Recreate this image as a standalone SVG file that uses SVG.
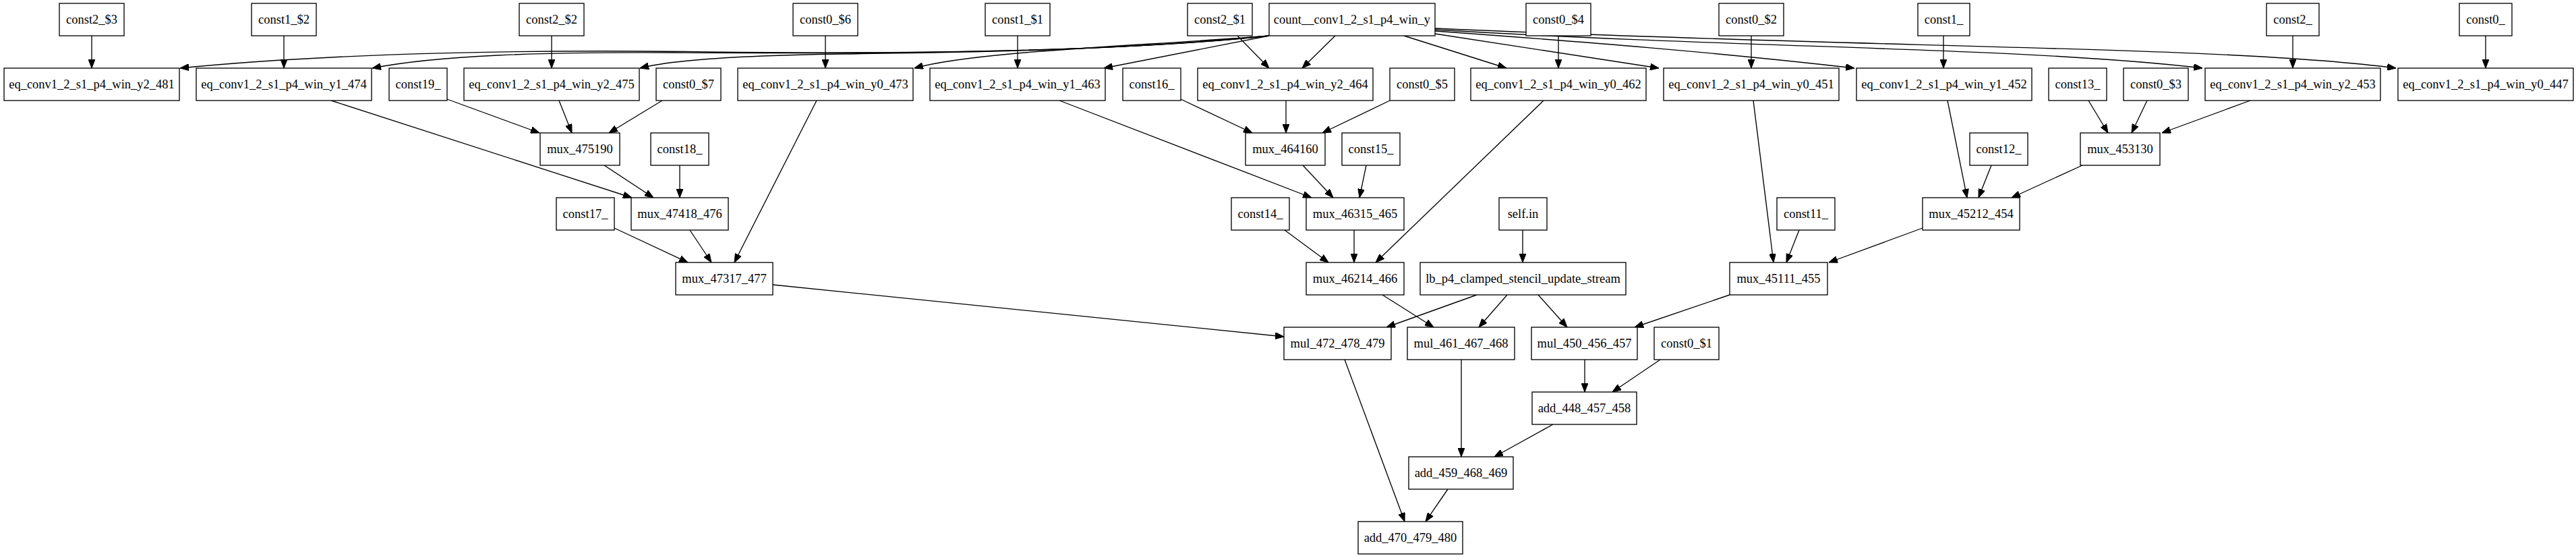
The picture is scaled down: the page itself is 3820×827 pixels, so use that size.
<svg xmlns="http://www.w3.org/2000/svg" width="3820" height="827" viewBox="0 0 3820 827">
<style>
.n rect{fill:#fff;stroke:#000;stroke-width:1.33}
.n text{font-family:"Liberation Serif","Times New Roman",serif;font-size:18.5px;text-anchor:middle;fill:#000}
.e path{fill:none;stroke:#000;stroke-width:1.33;marker-end:url(#ah)}
</style>
<defs>
<marker id="ah" markerUnits="userSpaceOnUse" viewBox="0 0 13 10" markerWidth="13" markerHeight="10" refX="13" refY="5" orient="auto">
<path d="M0,0 L13,5 L0,10 z" fill="#000" stroke="#000" stroke-width="1"/>
</marker>
</defs>
<rect x="0" y="0" width="3820" height="827" fill="#fff"/>
<g id="edges" class="e">
<path d="M136,53 L136,101"/>
<path d="M421,53 L421,101"/>
<path d="M818,53 L818,101"/>
<path d="M1224,53 L1224,101"/>
<path d="M1509,53 L1509,101"/>
<path d="M2311,53 L2311,101"/>
<path d="M2597,53 L2597,101"/>
<path d="M2882,53 L2882,101"/>
<path d="M3400,53 L3400,101"/>
<path d="M3686,53 L3686,101"/>
<path d="M1835,53 L1882,101"/>
<path d="M1980,53 L1931,101"/>
<path d="M2082,53 L2234,101"/>
<path d="M2128,50 L2460,101"/>
<path d="M2128,46 C2350,62 2550,78 2750,101"/>
<path d="M2128,44 C2600,72 3000,70 3266,101"/>
<path d="M2128,42 C2800,72 3300,68 3553,101"/>
<path d="M1882,53 C1650,76 1400,78 1250,80 C1100,82 1000,88 949,101"/>
<path d="M1882,53 C1650,78 1300,80 1000,78 C800,77 650,82 552,101"/>
<path d="M1882,53 C1650,78 1300,80 1050,77 C800,73 500,78 267,101"/>
<path d="M1882,53 C1700,68 1450,75 1356,101"/>
<path d="M1882,53 L1637,101"/>
<path d="M663,147 L800,197"/>
<path d="M829,149 L848,197"/>
<path d="M982,149 L903,197"/>
<path d="M491,149 L937,293"/>
<path d="M896,245 L969,293"/>
<path d="M1008,245 L1008,293"/>
<path d="M1211,149 L1089,389"/>
<path d="M1023,341 L1055,389"/>
<path d="M911,338 L1020,389"/>
<path d="M1751,147 L1857,197"/>
<path d="M1907,149 L1907,197"/>
<path d="M2061,149 L1961,197"/>
<path d="M1571,149 L1945,293"/>
<path d="M1932,245 L1977,293"/>
<path d="M2026,245 L2016,293"/>
<path d="M1905,341 L1970,389"/>
<path d="M2008,341 L2008,389"/>
<path d="M2289,149 L2040,389"/>
<path d="M2258,341 L2258,389"/>
<path d="M2600,149 L2630,389"/>
<path d="M2668,341 L2649,389"/>
<path d="M2851,338 L2712,389"/>
<path d="M2888,149 L2917,293"/>
<path d="M2953,245 L2934,293"/>
<path d="M3088,245 L2983,293"/>
<path d="M3097,149 L3126,197"/>
<path d="M3184,149 L3161,197"/>
<path d="M3337,149 L3206,197"/>
<path d="M1146,422 L1904,499"/>
<path d="M2050,437 L2126,485"/>
<path d="M2190,437 L2056,485"/>
<path d="M2235,437 L2193,485"/>
<path d="M2281,437 L2324,485"/>
<path d="M2565,437 L2424,485"/>
<path d="M2350,533 L2350,581"/>
<path d="M2462,533 L2391,581"/>
<path d="M2167,533 L2167,677"/>
<path d="M2303,629 L2216,677"/>
<path d="M1994,533 L2083,773"/>
<path d="M2147,725 L2114,773"/>
</g>
<g id="const2_3" class="n"><rect x="88" y="5" width="96" height="48"/><text x="136" y="35">const2_$3</text></g>
<g id="const1_2" class="n"><rect x="373" y="5" width="96" height="48"/><text x="421" y="35">const1_$2</text></g>
<g id="const2_2" class="n"><rect x="770" y="5" width="96" height="48"/><text x="818" y="35">const2_$2</text></g>
<g id="const0_6" class="n"><rect x="1176" y="5" width="96" height="48"/><text x="1224" y="35">const0_$6</text></g>
<g id="const1_1" class="n"><rect x="1461" y="5" width="96" height="48"/><text x="1509" y="35">const1_$1</text></g>
<g id="const2_1" class="n"><rect x="1761" y="5" width="96" height="48"/><text x="1809" y="35">const2_$1</text></g>
<g id="count" class="n"><rect x="1882" y="5" width="246" height="48"/><text x="2005" y="35">count__conv1_2_s1_p4_win_y</text></g>
<g id="const0_4" class="n"><rect x="2263" y="5" width="96" height="48"/><text x="2311" y="35">const0_$4</text></g>
<g id="const0_2" class="n"><rect x="2549" y="5" width="96" height="48"/><text x="2597" y="35">const0_$2</text></g>
<g id="const1" class="n"><rect x="2844" y="5" width="77" height="48"/><text x="2882.5" y="35">const1_</text></g>
<g id="const2" class="n"><rect x="3361" y="5" width="78" height="48"/><text x="3400" y="35">const2_</text></g>
<g id="const0" class="n"><rect x="3647" y="5" width="78" height="48"/><text x="3686" y="35">const0_</text></g>

<g id="eq_y2_481" class="n"><rect x="6" y="101" width="260" height="48"/><text x="136" y="131">eq_conv1_2_s1_p4_win_y2_481</text></g>
<g id="eq_y1_474" class="n"><rect x="291" y="101" width="260" height="48"/><text x="421" y="131">eq_conv1_2_s1_p4_win_y1_474</text></g>
<g id="const19" class="n"><rect x="577" y="101" width="86" height="48"/><text x="620" y="131">const19_</text></g>
<g id="eq_y2_475" class="n"><rect x="688" y="101" width="260" height="48"/><text x="818" y="131">eq_conv1_2_s1_p4_win_y2_475</text></g>
<g id="const0_7" class="n"><rect x="973" y="101" width="96" height="48"/><text x="1021" y="131">const0_$7</text></g>
<g id="eq_y0_473" class="n"><rect x="1094" y="101" width="260" height="48"/><text x="1224" y="131">eq_conv1_2_s1_p4_win_y0_473</text></g>
<g id="eq_y1_463" class="n"><rect x="1379" y="101" width="260" height="48"/><text x="1509" y="131">eq_conv1_2_s1_p4_win_y1_463</text></g>
<g id="const16" class="n"><rect x="1665" y="101" width="86" height="48"/><text x="1708" y="131">const16_</text></g>
<g id="eq_y2_464" class="n"><rect x="1776" y="101" width="260" height="48"/><text x="1906" y="131">eq_conv1_2_s1_p4_win_y2_464</text></g>
<g id="const0_5" class="n"><rect x="2061" y="101" width="96" height="48"/><text x="2109" y="131">const0_$5</text></g>
<g id="eq_y0_462" class="n"><rect x="2181" y="101" width="260" height="48"/><text x="2311" y="131">eq_conv1_2_s1_p4_win_y0_462</text></g>
<g id="eq_y0_451" class="n"><rect x="2467" y="101" width="260" height="48"/><text x="2597" y="131">eq_conv1_2_s1_p4_win_y0_451</text></g>
<g id="eq_y1_452" class="n"><rect x="2753" y="101" width="260" height="48"/><text x="2883" y="131">eq_conv1_2_s1_p4_win_y1_452</text></g>
<g id="const13" class="n"><rect x="3038" y="101" width="86" height="48"/><text x="3081" y="131">const13_</text></g>
<g id="const0_3" class="n"><rect x="3149" y="101" width="96" height="48"/><text x="3197" y="131">const0_$3</text></g>
<g id="eq_y2_453" class="n"><rect x="3270" y="101" width="260" height="48"/><text x="3400" y="131">eq_conv1_2_s1_p4_win_y2_453</text></g>
<g id="eq_y0_447" class="n"><rect x="3556" y="101" width="260" height="48"/><text x="3686" y="131">eq_conv1_2_s1_p4_win_y0_447</text></g>

<g id="mux_475190" class="n"><rect x="801" y="197" width="118" height="48"/><text x="860" y="227">mux_475190</text></g>
<g id="const18" class="n"><rect x="965" y="197" width="86" height="48"/><text x="1008" y="227">const18_</text></g>
<g id="mux_464160" class="n"><rect x="1847" y="197" width="118" height="48"/><text x="1906" y="227">mux_464160</text></g>
<g id="const15" class="n"><rect x="1990" y="197" width="86" height="48"/><text x="2033" y="227">const15_</text></g>
<g id="const12" class="n"><rect x="2921" y="197" width="86" height="48"/><text x="2964" y="227">const12_</text></g>
<g id="mux_453130" class="n"><rect x="3085" y="197" width="118" height="48"/><text x="3144" y="227">mux_453130</text></g>

<g id="const17" class="n"><rect x="825" y="293" width="86" height="48"/><text x="868" y="323">const17_</text></g>
<g id="mux_47418_476" class="n"><rect x="936" y="293" width="144" height="48"/><text x="1008" y="323">mux_47418_476</text></g>
<g id="const14" class="n"><rect x="1826" y="293" width="86" height="48"/><text x="1869" y="323">const14_</text></g>
<g id="mux_46315_465" class="n"><rect x="1937" y="293" width="145" height="48"/><text x="2009.5" y="323">mux_46315_465</text></g>
<g id="self_in" class="n"><rect x="2223" y="293" width="71" height="48"/><text x="2258.5" y="323">self.in</text></g>
<g id="const11" class="n"><rect x="2635" y="293" width="86" height="48"/><text x="2678" y="323">const11_</text></g>
<g id="mux_45212_454" class="n"><rect x="2851" y="293" width="144" height="48"/><text x="2923" y="323">mux_45212_454</text></g>

<g id="mux_47317_477" class="n"><rect x="1002" y="389" width="144" height="48"/><text x="1074" y="419">mux_47317_477</text></g>
<g id="mux_46214_466" class="n"><rect x="1937" y="389" width="145" height="48"/><text x="2009.5" y="419">mux_46214_466</text></g>
<g id="lb_p4" class="n"><rect x="2106" y="389" width="305" height="48"/><text x="2258.5" y="419">lb_p4_clamped_stencil_update_stream</text></g>
<g id="mux_45111_455" class="n"><rect x="2565" y="389" width="145" height="48"/><text x="2637.5" y="419">mux_45111_455</text></g>

<g id="mul_472_478_479" class="n"><rect x="1904" y="485" width="159" height="48"/><text x="1983.5" y="515">mul_472_478_479</text></g>
<g id="mul_461_467_468" class="n"><rect x="2087" y="485" width="159" height="48"/><text x="2166.5" y="515">mul_461_467_468</text></g>
<g id="mul_450_456_457" class="n"><rect x="2271" y="485" width="157" height="48"/><text x="2349.5" y="515">mul_450_456_457</text></g>
<g id="const0_1" class="n"><rect x="2453" y="485" width="96" height="48"/><text x="2501" y="515">const0_$1</text></g>

<g id="add_448_457_458" class="n"><rect x="2272" y="581" width="155" height="48"/><text x="2349.5" y="611">add_448_457_458</text></g>
<g id="add_459_468_469" class="n"><rect x="2089" y="677" width="155" height="48"/><text x="2166.5" y="707">add_459_468_469</text></g>
<g id="add_470_479_480" class="n"><rect x="2014" y="773" width="155" height="48"/><text x="2091.5" y="803">add_470_479_480</text></g>
</svg>
